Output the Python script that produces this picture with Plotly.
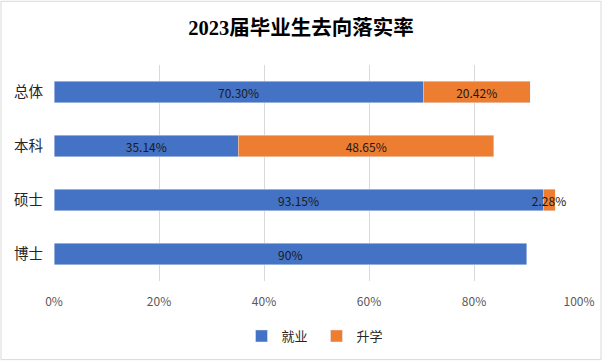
import plotly.graph_objects as go

categories = ["总体", "本科", "硕士", "博士"]
employed = [70.30, 35.14, 93.15, 90]
employed_labels = ["70.30%", "35.14%", "93.15%", "90%"]
further = [20.42, 48.65, 2.28, None]
further_labels = ["20.42%", "48.65%", "2.28%", ""]
tick_vals = [0, 20, 40, 60, 80, 100]
tick_text = ["0%", "20%", "40%", "60%", "80%", "100%"]

L, R, T, B = 54, 23, 65, 80
W, H = 602, 362
pw, ph = W - L - R, H - T - B

fig = go.Figure()
fig.add_trace(go.Bar(
    y=categories, x=employed, orientation="h", name="就业",
    marker=dict(color="#4472C4"), text=employed_labels,
    textposition="inside", insidetextanchor="middle", textangle=0,
    textfont=dict(size=12, color="#1a1a1a"), hoverinfo="x+y"))
fig.add_trace(go.Bar(
    y=categories, x=further, orientation="h", name="升学",
    marker=dict(color="#ED7D31"), text=further_labels,
    textposition="inside", insidetextanchor="middle", textangle=0,
    textfont=dict(size=12, color="#1a1a1a"), hoverinfo="x+y"))

fig.update_layout(
    barmode="stack", bargap=0.61,
    width=W, height=H,
    margin=dict(l=L, r=R, t=T, b=B),
    paper_bgcolor="white", plot_bgcolor="white",
    font=dict(family="Noto Sans CJK SC, Noto Sans, sans-serif", size=12, color="#404040"),
    title=dict(text="<b>2023届毕业生去向落实率</b>", x=0.5, xanchor="center", y=1 - 28 / H, yanchor="middle",
               font=dict(family="Liberation Serif, Noto Sans CJK SC, serif", size=20.5, color="#000000")),
    uniformtext=dict(minsize=12, mode="show"),
    xaxis=dict(range=[0, 100], tickvals=tick_vals, ticktext=tick_text, showgrid=True,
               gridcolor="#D9D9D9", gridwidth=1, zeroline=False, showline=False, automargin=False,
               tickfont=dict(size=12, color="#595959"), ticks="", ticklabelstandoff=12),
    yaxis=dict(categoryorder="array", categoryarray=categories[::-1], showgrid=False, automargin=False,
               tickfont=dict(size=14.5, color="#262626"), ticks="", ticklabelstandoff=10),
    legend=dict(orientation="h", x=0.5, xanchor="center", y=-(336 - (H - B)) / ph, yanchor="middle",
                font=dict(size=13, color="#262626"), entrywidth=30, entrywidthmode="pixels",
                traceorder="normal"),
    showlegend=True,
)

fig.add_shape(type="rect", xref="paper", yref="paper",
              x0=(1 - L) / pw, x1=(W - 1 - L) / pw,
              y0=-(H - 1 - (H - B)) / ph, y1=((H - B) - 1) / ph,
              line=dict(color="#D9D9D9", width=1), fillcolor="rgba(0,0,0,0)", layer="below")

fig.write_html("out.html", config={"displayModeBar": False},
               post_script="document.body.style.margin='0';document.body.style.padding='0';")
